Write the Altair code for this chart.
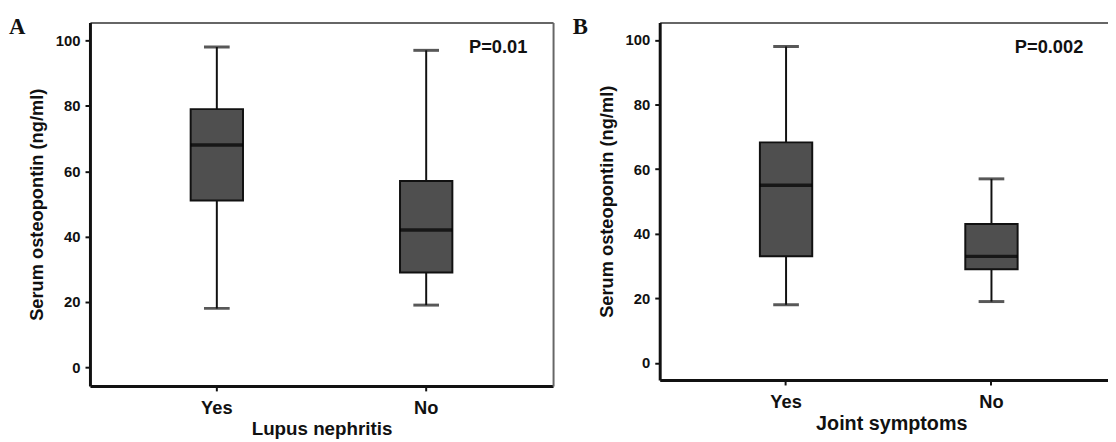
import altair as alt
import pandas as pd

groups = ["Yes", "No"]

# Panel A: Lupus nephritis
a_min = [18, 19]
a_q1 = [51, 29]
a_med = [68, 42]
a_q3 = [79, 57]
a_max = [98, 97]

# Panel B: Joint symptoms
b_min = [18, 19]
b_q1 = [33, 29]
b_med = [55, 33]
b_q3 = [68.3, 43]
b_max = [98, 57]

y_ticks = [0, 20, 40, 60, 80, 100]

SANS = "Liberation Sans"
SERIF = "Liberation Serif"
INK = "#111111"
FILL = "#4f4f4f"
FRAME = "#666666"


def panel(mins, q1, med, q3, maxs, xtitle, ptext, letter, width, height,
          ydomain, xscale, ptext_x, letter_x, right_frame, xtitle_x, xtitle_size):
    df = pd.DataFrame({"group": groups, "lo": mins, "q1": q1, "med": med,
                       "q3": q3, "hi": maxs})
    base = alt.Chart(df)
    yscale = alt.Scale(domain=ydomain, nice=False, zero=False)

    x_axis_kw = dict(labelAngle=0, labelFontSize=18.5, labelPadding=8,
                     titleFontSize=xtitle_size, titlePadding=3)
    if xtitle_x is not None:
        x_axis_kw["titleX"] = xtitle_x
    x_main = alt.X("group:N", sort=groups, scale=xscale, title=xtitle,
                   axis=alt.Axis(**x_axis_kw))
    x_plain = alt.X("group:N", sort=groups, scale=xscale, axis=None)

    whisker = base.mark_rule(color=INK, strokeWidth=2).encode(
        x=x_main,
        y=alt.Y("lo:Q", scale=yscale, title="Serum osteopontin (ng/ml)",
                axis=alt.Axis(values=y_ticks, labelFontSize=15, labelPadding=5,
                              titleFontSize=18.5, titlePadding=9)),
        y2="hi:Q",
    )
    box = base.mark_bar(size=53, color=FILL, stroke=INK, strokeWidth=2).encode(
        x=x_plain,
        y=alt.Y("q1:Q", scale=yscale, axis=None),
        y2="q3:Q",
    )
    median = base.mark_tick(size=53, thickness=3.5, color="#000000").encode(
        x=x_plain,
        y=alt.Y("med:Q", scale=yscale, axis=None),
    )
    cap_lo = base.mark_tick(size=26, thickness=3, color=INK).encode(
        x=x_plain,
        y=alt.Y("lo:Q", scale=yscale, axis=None),
    )
    cap_hi = base.mark_tick(size=26, thickness=3, color=INK).encode(
        x=x_plain,
        y=alt.Y("hi:Q", scale=yscale, axis=None),
    )
    if right_frame:
        y_frame = alt.Y("med:Q", scale=yscale, title=None,
                        axis=alt.Axis(orient="right", labels=False, ticks=False,
                                      domainColor=FRAME, domainWidth=2))
    else:
        y_frame = alt.Y("med:Q", scale=yscale, axis=None)
    frame = base.mark_point(opacity=0).encode(
        x=alt.X("group:N", sort=groups, scale=xscale, title=None,
                axis=alt.Axis(orient="top", labels=False, ticks=False,
                              domainColor=FRAME, domainWidth=2)),
        y=y_frame,
    )
    pdf = pd.DataFrame({"t": [ptext]})
    ptxt = alt.Chart(pdf).mark_text(
        align="right", baseline="alphabetic", font=SANS, fontWeight="bold",
        fontSize=18.5, color=INK,
    ).encode(x=alt.value(ptext_x), y=alt.value(31), text="t:N")
    ldf = pd.DataFrame({"t": [letter]})
    ltxt = alt.Chart(ldf).mark_text(
        align="left", baseline="alphabetic", font=SERIF, fontWeight="bold",
        fontSize=23, color=INK,
    ).encode(x=alt.value(letter_x), y=alt.value(12), text="t:N")

    return alt.layer(whisker, box, median, cap_lo, cap_hi, frame, ptxt, ltxt).resolve_axis(
        x="independent", y="independent"
    ).properties(width=width, height=height)


chart_a = panel(a_min, a_q1, a_med, a_q3, a_max, "Lupus nephritis", "P=0.01", "A",
                469, 368, [-5.75, 105.5],
                alt.Scale(type="band", paddingInner=0.5, paddingOuter=0.356, align=0.5),
                443, -82, True, None, 19)
chart_b = panel(b_min, b_q1, b_med, b_q3, b_max, "Joint symptoms", "P=0.002", "B",
                454, 362, [-5.3, 105.4],
                alt.Scale(type="band", paddingInner=0.5, paddingOuter=0.3413, align=0.535),
                429, -88, False, 234.5, 20)

chart = alt.hconcat(chart_a, chart_b, spacing=20).properties(
    padding={"left": 1, "top": 6, "right": 0, "bottom": 0},
    background="white",
).configure_view(strokeWidth=0).configure_axis(
    labelFont=SANS, labelFontWeight="bold", labelColor=INK,
    titleFont=SANS, titleFontWeight="bold", titleColor=INK,
    domainColor=INK, domainWidth=3, tickColor=INK, tickWidth=2, tickSize=5,
    grid=False,
)

chart.save("out.html", embed_options={"renderer": "svg", "actions": False})
